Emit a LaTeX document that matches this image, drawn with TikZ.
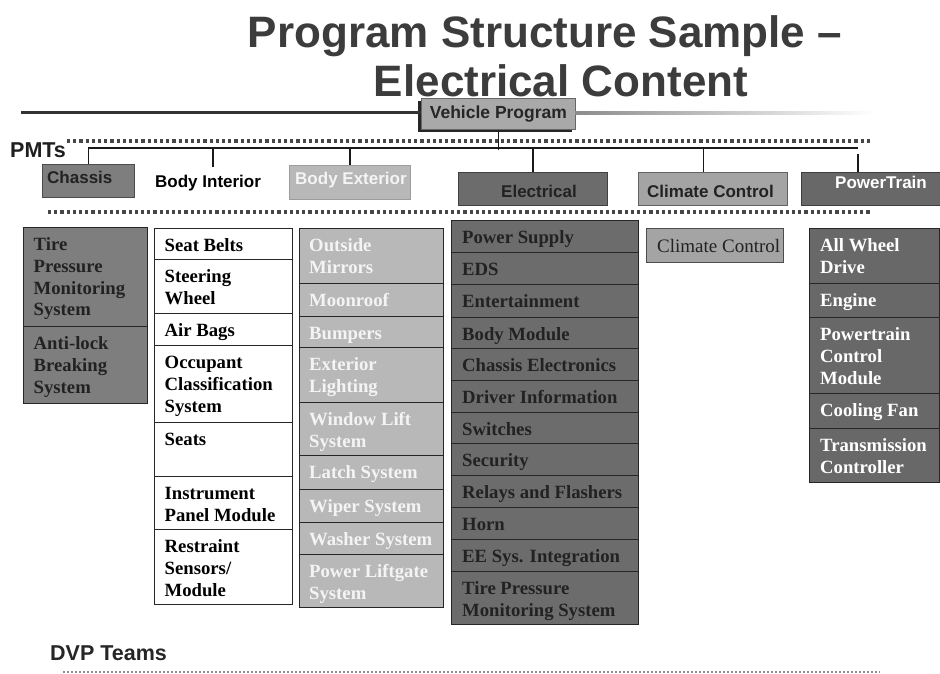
\documentclass[tikz,border=0pt]{standalone}
\usepackage{fontspec}
\setmainfont{Liberation Serif}
\newfontfamily\arialf{Liberation Sans}
\definecolor{titlegray}{HTML}{3C3C3C}
\definecolor{vpgray}{HTML}{A9A9A9}
\definecolor{chgray}{HTML}{7E7E7E}
\definecolor{exgray}{HTML}{B8B8B8}
\definecolor{elgray}{HTML}{6C6C6C}
\definecolor{clgray}{HTML}{A4A4A4}
\definecolor{ptgray}{HTML}{686868}
\definecolor{darktext}{HTML}{222222}
\definecolor{lighttext}{HTML}{F4F4F4}
\tikzset{
  pmtbox/.style={draw=#1!60!black, fill=#1, line width=1pt, inner sep=0pt, anchor=north west},
  pmtfont/.style={font=\arialf\bfseries\fontsize{17}{20}\selectfont, anchor=base west, inner sep=0pt, text=#1},
  cellbox/.style={draw=black!85, line width=1.2pt, fill=#1, inner sep=0pt, anchor=north west},
  celltext/.style={anchor=base west, inner sep=0pt, text=#1},
  barline/.style={line width=1.4pt, black!90},
  dotrule/.style={line width=3.2pt, dash pattern=on 3.2pt off 3pt, black!72},
  finedots/.style={line width=1.6pt, dash pattern=on 1.6pt off 2.4pt, black!45},
}
\newcommand{\celltxt}[1]{\parbox[t]{200pt}{\raggedright\fontsize{18.7}{22}\selectfont\bfseries #1}}
\newcommand{\celltxtreg}[1]{\parbox[t]{200pt}{\raggedright\fontsize{19}{22}\selectfont #1}}
\begin{document}
\begin{tikzpicture}[x=1pt,y=-1pt]
\useasboundingbox (0,0) rectangle (940,674);
\fill[white] (0,0) rectangle (940,674);

% title
\node[anchor=base, inner sep=0pt, font=\arialf\bfseries\fontsize{44}{48}\selectfont, text=titlegray] (title1) at (545,48) {Program Structure Sample –};
\node[anchor=base, inner sep=0pt, font=\arialf\bfseries\fontsize{44}{48}\selectfont, text=titlegray] (title2) at (561,97) {Electrical Content};

% vehicle program box
\fill[black!85] (418,101) rectangle (572,132);
\node[draw=black!60, fill=vpgray, line width=0.8pt, minimum width=154pt, minimum height=31pt, inner sep=0pt, anchor=north west,
      font=\arialf\bfseries\fontsize{17.5}{20}\selectfont, text=black!85] (vp) at (421,98) {Vehicle Program};
\coordinate (ul) at (21,113);
\draw[line width=3pt, black!80] (ul) -- (ul -| vp.west);
\shade[left color=black!45, right color=white] (575,112) rectangle (875,114.5);

% PMTs label and dotted rules
\node[anchor=base west, inner sep=0pt, font=\arialf\bfseries\fontsize{21.5}{24}\selectfont, text=black!88] (pmts) at (10,158) {PMTs};
\coordinate (dA) at (67,141);
\coordinate (dB) at (872,141);
\coordinate (dC) at (48,212);
\coordinate (dD) at (872,212);
\draw[dotrule] (dA) -- (dB);
\draw[dotrule] (dC) -- (dD);

% PMT boxes
\node[pmtbox=chgray, minimum width=92pt, minimum height=33pt] (chassis) at (42,164) {};
\node[pmtfont=darktext] (chassis-t) at (47,183) {Chassis};
\node[pmtfont=black] (bodyint) at (155,187) {Body Interior};
\node[pmtbox=exgray, draw=exgray!85!black, minimum width=121pt, minimum height=34pt] (bodyext) at (289,165) {};
\node[pmtfont=lighttext] (bodyext-t) at (295,185) {Body Exterior};
\node[pmtbox=elgray, minimum width=149pt, minimum height=33pt] (electrical) at (458,172) {};
\node[pmtfont=darktext] (electrical-t) at (501,197) {Electrical};
\node[pmtbox=clgray, minimum width=149pt, minimum height=33pt] (climate) at (638,172) {};
\node[pmtfont=darktext] (climate-t) at (647,197) {Climate Control};
\node[pmtbox=ptgray, minimum width=138.5pt, minimum height=33pt] (pt) at (801,172) {};
\node[pmtfont=white] (pt-t) at (835,188) {PowerTrain};

% bracket connectors
\coordinate (barL) at (88,148);
\coordinate (barR) at (858,148);
\coordinate (biTick) at (213,167);
\coordinate (ptTick) at (858,154);
\draw[barline] (barL) -- (barR);
\draw[barline] (vp.south) -- ([yshift=-2pt]vp.south |- barL);
\draw[barline] (chassis.north |- barL) -- (chassis.north);
\draw[barline] (biTick |- barL) -- (biTick);
\draw[barline] (bodyext.north |- barL) -- (bodyext.north);
\draw[barline] (electrical.north |- barL) -- (electrical.north);
\draw[barline] ([xshift=-9.5pt]climate.north |- barL) -- ([xshift=-9.5pt]climate.north);
\draw[barline] (ptTick) -- (ptTick |- pt.north);

% column 1: chassis
\foreach \yt/\yb/\txt [count=\i] in {227/326/{Tire\\Pressure\\Monitoring\\System}, 326/403/{Anti-lock\\Breaking\\System}} {
  \node[cellbox=chgray, minimum width=124pt, minimum height={\yb-\yt}] (ca-\i) at (23,\yt) {};
  \node[celltext=darktext] (ca-\i-t) at ([xshift=10.5pt,yshift=-23pt]ca-\i.north west) {\celltxt{\txt}};
}
% column 2: body interior
\foreach \yt/\yb/\txt [count=\i] in {228/259/{Seat Belts}, 259/313/{Steering\\Wheel}, 313/345/{Air Bags},
   345/422/{Occupant\\Classification\\System}, 422/476/{Seats}, 476/529/{Instrument\\Panel Module},
   529/604/{Restraint\\Sensors/\\Module}} {
  \node[cellbox=white, minimum width=138pt, minimum height={\yb-\yt}] (cb-\i) at (154,\yt) {};
  \node[celltext=black] (cb-\i-t) at ([xshift=10.5pt,yshift=-23pt]cb-\i.north west) {\celltxt{\txt}};
}
% column 3: body exterior
\foreach \yt/\yb/\txt [count=\i] in {228/283/{Outside\\Mirrors}, 283/316/{Moonroof}, 316/347/{Bumpers},
   347/402/{Exterior\\Lighting}, 402/455/{Window Lift\\System}, 455/489/{Latch System},
   489/522/{Wiper System}, 522/554/{Washer System}, 554/607/{Power Liftgate\\System}} {
  \node[cellbox=exgray, minimum width=144pt, minimum height={\yb-\yt}] (cc-\i) at (299,\yt) {};
  \node[celltext=lighttext] (cc-\i-t) at ([xshift=10pt,yshift=-23pt]cc-\i.north west) {\celltxt{\txt}};
}
% column 4: electrical
\foreach \yt/\yb/\txt [count=\i] in {220/252/{Power Supply}, 252/284/{EDS}, 284/317/{Entertainment},
   317/348/{Body Module}, 348/380/{Chassis Electronics}, 380/412/{Driver Information},
   412/443/{Switches}, 443/475/{Security}, 475/507/{Relays and Flashers}, 507/539/{Horn},
   539/571/{EE Sys. Integration}, 571/624/{Tire Pressure\\Monitoring System}} {
  \node[cellbox=elgray, minimum width=187pt, minimum height={\yb-\yt}] (cd-\i) at (451,\yt) {};
  \node[celltext=darktext] (cd-\i-t) at ([xshift=11pt,yshift=-23pt]cd-\i.north west) {\celltxt{\txt}};
}
% column 5: climate control
\node[cellbox=clgray, draw=black!70, minimum width=137pt, minimum height=34pt] (ce-1) at (646,228) {};
\node[celltext=darktext] (ce-1-t) at ([xshift=11pt,yshift=-24pt]ce-1.north west) {\celltxtreg{Climate Control}};
% column 6: powertrain
\foreach \yt/\yb/\txt [count=\i] in {228/283/{All Wheel\\Drive}, 283/317/{Engine},
   317/393/{Powertrain\\Control\\Module}, 393/428/{Cooling Fan}, 428/482/{Transmission\\Controller}} {
  \node[cellbox=ptgray, minimum width=130pt, minimum height={\yb-\yt}] (cf-\i) at (809,\yt) {};
  \node[celltext=white] (cf-\i-t) at ([xshift=11pt,yshift=-23pt]cf-\i.north west) {\celltxt{\txt}};
}

% DVP teams
\node[anchor=base west, inner sep=0pt, font=\arialf\bfseries\fontsize{21.5}{24}\selectfont, text=black!85] (dvp) at (50,660) {DVP Teams};
\coordinate (dE) at (63,672);
\coordinate (dF) at (880,672);
\draw[finedots] (dE) -- (dF);
\end{tikzpicture}
\end{document}
